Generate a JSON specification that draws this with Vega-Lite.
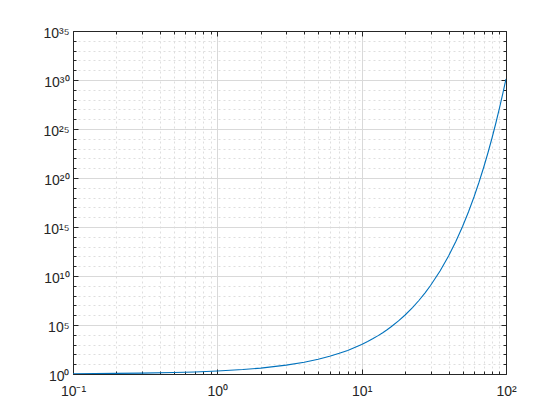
{
  "$schema": "https://vega.github.io/schema/vega-lite/v6.json",
  "autosize": "none",
  "width": 433,
  "height": 343,
  "padding": {"left": 73, "top": 31, "right": 54, "bottom": 46},
  "background": "white",
  "config": {
    "view": {"stroke": null},
    "axis": {
      "labelFont": "Liberation Sans",
      "labelFontSize": 14,
      "labelColor": "#262626",
      "domainColor": "#262626",
      "domainWidth": 1,
      "tickColor": "#262626",
      "tickWidth": 1,
      "labelFlush": false,
      "labelOverlap": false
    }
  },
  "data": {
    "values": [
      {"x": 0.1, "y": 1.072},
      {"x": 0.2, "y": 1.149},
      {"x": 0.3, "y": 1.231},
      {"x": 0.5, "y": 1.414},
      {"x": 0.7, "y": 1.625},
      {"x": 1, "y": 2},
      {"x": 1.5, "y": 2.83},
      {"x": 2, "y": 4},
      {"x": 3, "y": 8},
      {"x": 4, "y": 16},
      {"x": 5, "y": 32},
      {"x": 6, "y": 64},
      {"x": 7, "y": 128},
      {"x": 8, "y": 256},
      {"x": 10, "y": 1024},
      {"x": 11, "y": 2048},
      {"x": 12, "y": 4096},
      {"x": 13, "y": 8192},
      {"x": 14, "y": 16384},
      {"x": 15, "y": 32768},
      {"x": 16, "y": 65536},
      {"x": 18, "y": 262144},
      {"x": 20, "y": 1.049e6},
      {"x": 22.5, "y": 5.93e6},
      {"x": 25, "y": 3.36e7},
      {"x": 27.5, "y": 1.90e8},
      {"x": 30, "y": 1.07e9},
      {"x": 35, "y": 3.44e10},
      {"x": 40, "y": 1.10e12},
      {"x": 45, "y": 3.52e13},
      {"x": 50, "y": 1.13e15},
      {"x": 55, "y": 3.60e16},
      {"x": 60, "y": 1.15e18},
      {"x": 65, "y": 3.69e19},
      {"x": 70, "y": 1.18e21},
      {"x": 75, "y": 3.78e22},
      {"x": 80, "y": 1.21e24},
      {"x": 85, "y": 3.87e25},
      {"x": 90, "y": 1.24e27},
      {"x": 95, "y": 3.96e28},
      {"x": 100, "y": 1.27e30}
    ]
  },
  "resolve": {"axis": {"x": "independent", "y": "independent"}},
  "layer": [
    {
      "mark": {"type": "line", "color": "#0072BD", "strokeWidth": 1.1, "clip": true},
      "encoding": {
        "x": {
          "field": "x", "type": "quantitative",
          "scale": {"type": "log", "domain": [0.1, 100], "nice": false},
          "axis": {
            "title": null,
            "orient": "bottom",
            "values": [0.1, 0.2, 0.3, 0.4, 0.5, 0.6, 0.7, 0.8, 0.9, 1, 2, 3, 4, 5, 6, 7, 8, 9, 10, 20, 30, 40, 50, 60, 70, 80, 90, 100],
            "labelExpr": "datum.value == 0.1 ? '10⁻¹' : datum.value == 1 ? '10⁰' : datum.value == 10 ? '10¹' : datum.value == 100 ? '10²' : ''",
            "labelBaseline": "alphabetic",
            "labelPadding": 26,
            "grid": true,
            "gridColor": {"condition": {"test": "abs(log(datum.value)/LN10 - round(log(datum.value)/LN10)) < 0.001", "value": "#d9d9d9"}, "value": "#dedede"},
            "gridDash": {"condition": {"test": "abs(log(datum.value)/LN10 - round(log(datum.value)/LN10)) < 0.001", "value": []}, "value": [2, 3]},
            "tickSize": {"condition": {"test": "abs(log(datum.value)/LN10 - round(log(datum.value)/LN10)) < 0.001", "value": -5}, "value": -3}
          }
        },
        "y": {
          "field": "y", "type": "quantitative",
          "scale": {"type": "log", "domain": [1, 1e35], "nice": false},
          "axis": {
            "title": null,
            "orient": "left",
            "values": [1, 1e1, 1e2, 1e3, 1e4, 1e5, 1e6, 1e7, 1e8, 1e9, 1e10, 1e11, 1e12, 1e13, 1e14, 1e15, 1e16, 1e17, 1e18, 1e19, 1e20, 1e21, 1e22, 1e23, 1e24, 1e25, 1e26, 1e27, 1e28, 1e29, 1e30, 1e31, 1e32, 1e33, 1e34, 1e35],
            "labelExpr": "(round(log(datum.value)/LN10) % 5 == 0) ? '10' + ['⁰','⁵','¹⁰','¹⁵','²⁰','²⁵','³⁰','³⁵'][round(round(log(datum.value)/LN10)/5)] : ''",
            "labelPadding": 9,
            "labelOffset": 2,
            "grid": true,
            "gridColor": {"condition": {"test": "round(log(datum.value)/LN10) % 5 == 0", "value": "#d9d9d9"}, "value": "#dedede"},
            "gridDash": {"condition": {"test": "round(log(datum.value)/LN10) % 5 == 0", "value": []}, "value": [2, 3]},
            "tickSize": {"condition": {"test": "round(log(datum.value)/LN10) % 5 == 0", "value": -5}, "value": -3}
          }
        }
      }
    },
    {
      "mark": {"type": "line", "opacity": 0},
      "encoding": {
        "x": {
          "field": "x", "type": "quantitative",
          "scale": {"type": "log", "domain": [0.1, 100], "nice": false},
          "axis": {
            "title": null,
            "orient": "top",
            "values": [0.1, 0.2, 0.3, 0.4, 0.5, 0.6, 0.7, 0.8, 0.9, 1, 2, 3, 4, 5, 6, 7, 8, 9, 10, 20, 30, 40, 50, 60, 70, 80, 90, 100],
            "labels": false,
            "grid": false,
            "tickSize": {"condition": {"test": "abs(log(datum.value)/LN10 - round(log(datum.value)/LN10)) < 0.001", "value": -5}, "value": -3}
          }
        },
        "y": {
          "field": "y", "type": "quantitative",
          "scale": {"type": "log", "domain": [1, 1e35], "nice": false},
          "axis": {
            "title": null,
            "orient": "right",
            "values": [1, 1e1, 1e2, 1e3, 1e4, 1e5, 1e6, 1e7, 1e8, 1e9, 1e10, 1e11, 1e12, 1e13, 1e14, 1e15, 1e16, 1e17, 1e18, 1e19, 1e20, 1e21, 1e22, 1e23, 1e24, 1e25, 1e26, 1e27, 1e28, 1e29, 1e30, 1e31, 1e32, 1e33, 1e34, 1e35],
            "labels": false,
            "grid": false,
            "tickSize": {"condition": {"test": "round(log(datum.value)/LN10) % 5 == 0", "value": -5}, "value": -3}
          }
        }
      }
    }
  ]
}
